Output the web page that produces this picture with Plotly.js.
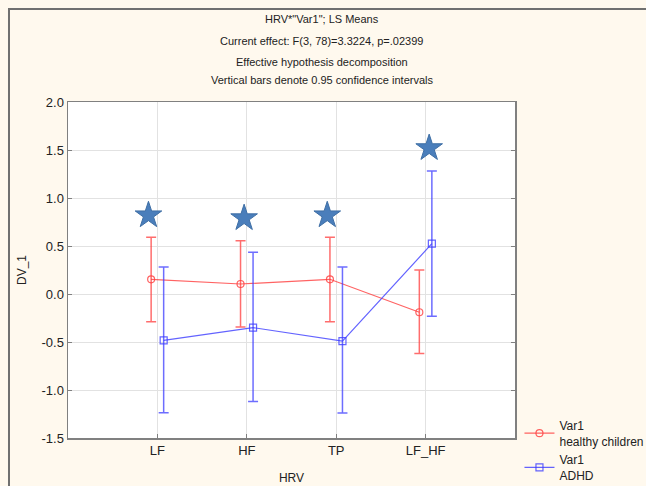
<!DOCTYPE html>
<html><head><meta charset="utf-8">
<script src="https://cdn.plot.ly/plotly-3.0.1.min.js"></script>
<style>html,body{margin:0;padding:0;background:#FFF9EE;}</style>
</head><body>
<div id="chart" style="width:646px;height:486px;"></div>
<script>
const categories = ["LF", "HF", "TP", "LF_HF"];
const healthyMean  = [0.153, 0.104, 0.153, -0.19];
const healthyUpper = [0.59, 0.555, 0.59, 0.25];
const healthyLower = [-0.288, -0.344, -0.29, -0.62];
const adhdMean  = [-0.483, -0.35, -0.49, 0.524];
const adhdUpper = [0.28, 0.434, 0.28, 1.28];
const adhdLower = [-1.236, -1.12, -1.24, -0.233];
const starY = [0.82, 0.79, 0.82, 1.52];
const starShift = [-0.1, -0.03, -0.1, 0.04];
const titleLines = ['HRV*"Var1"; LS Means', 'Current effect: F(3, 78)=3.3224, p=.02399',
  'Effective hypothesis decomposition', 'Vertical bars denote 0.95 confidence intervals'];
const yTicks = [-1.5, -1.0, -0.5, 0.0, 0.5, 1.0, 1.5, 2.0];

const idx = categories.map((c, i) => i);
const off = 0.07;
const font = "Liberation Sans, Arial, sans-serif";

const healthy = {
  type: "scatter", mode: "lines+markers", name: "Var1<br>healthy children",
  x: idx.map(i => i - off), y: healthyMean,
  line: {color: "rgba(255,60,60,0.8)", width: 1.2},
  marker: {symbol: "circle-open", size: 7, color: "rgba(255,60,60,0.8)", line: {width: 1.2}},
  error_y: {type: "data", symmetric: false,
    array: healthyUpper.map((u, i) => u - healthyMean[i]),
    arrayminus: healthyMean.map((m, i) => m - healthyLower[i]),
    color: "rgba(255,60,60,0.75)", thickness: 1.5, width: 5}
};
const adhd = {
  type: "scatter", mode: "lines+markers", name: "Var1<br>ADHD",
  x: idx.map(i => i + off), y: adhdMean,
  line: {color: "rgba(60,60,255,0.8)", width: 1.2},
  marker: {symbol: "square-open", size: 7, color: "rgba(60,60,255,0.8)", line: {width: 1.2}},
  error_y: {type: "data", symmetric: false,
    array: adhdUpper.map((u, i) => u - adhdMean[i]),
    arrayminus: adhdMean.map((m, i) => m - adhdLower[i]),
    color: "rgba(60,60,255,0.75)", thickness: 1.5, width: 5}
};
const stars = {
  type: "scatter", mode: "markers", showlegend: false, hoverinfo: "skip",
  x: idx.map(i => i + starShift[i]), y: starY,
  marker: {symbol: "star", size: 20, color: "#4A7EBB", line: {color: "#3F6FA5", width: 1}}
};

const annotations = titleLines.map((t, i) => ({
  text: t, xref: "paper", yref: "paper", x: 0.568, y: [1.247, 1.182, 1.119, 1.065][i],
  xanchor: "center", yanchor: "middle", showarrow: false,
  font: {family: font, size: 11, color: "#222"}
}));

const layout = {
  width: 646, height: 486,
  margin: {l: 68, r: 131, t: 102, b: 48, autoexpand: false},
  paper_bgcolor: "#FFF9EE", plot_bgcolor: "#FFFFFF",
  font: {family: font, size: 12, color: "#222"},
  showlegend: true,
  legend: {x: 1.01, y: 0.08, xanchor: "left", yanchor: "top", bgcolor: "rgba(0,0,0,0)",
    font: {family: font, size: 12, color: "#222"}, tracegroupgap: 0, itemwidth: 30},
  xaxis: {range: [-1, 4], tickvals: idx, ticktext: categories, automargin: false,
    showgrid: true, gridcolor: "#E2E2E2", zeroline: false,
    showline: true, linecolor: "#808080", linewidth: 1.5, mirror: true,
    ticks: "inside", ticklen: 4, tickcolor: "#808080",
    title: {text: "HRV", font: {family: font, size: 12, color: "#222"}, standoff: 16},
    tickfont: {family: font, size: 13, color: "#222"}},
  yaxis: {range: [-1.5, 2.0], tickvals: yTicks, ticktext: yTicks.map(v => v.toFixed(1)), automargin: false,
    showgrid: true, gridcolor: "#E2E2E2", zeroline: false,
    showline: true, linecolor: "#808080", linewidth: 1.5, mirror: "allticks",
    ticks: "inside", ticklen: 4, tickcolor: "#808080",
    title: {text: "DV_1", font: {family: font, size: 12, color: "#222"}, standoff: 12},
    tickfont: {family: font, size: 13, color: "#222"}},
  annotations: annotations,
  shapes: [{type: "rect", xref: "paper", yref: "paper", x0: -0.132, x1: 1.6, y0: -0.5, y1: 1.277,
    line: {color: "#707070", width: 2}, fillcolor: "rgba(0,0,0,0)", layer: "above"}]
};

Plotly.newPlot("chart", [healthy, adhd, stars], layout, {displayModeBar: false, staticPlot: true});
</script>
</body></html>
